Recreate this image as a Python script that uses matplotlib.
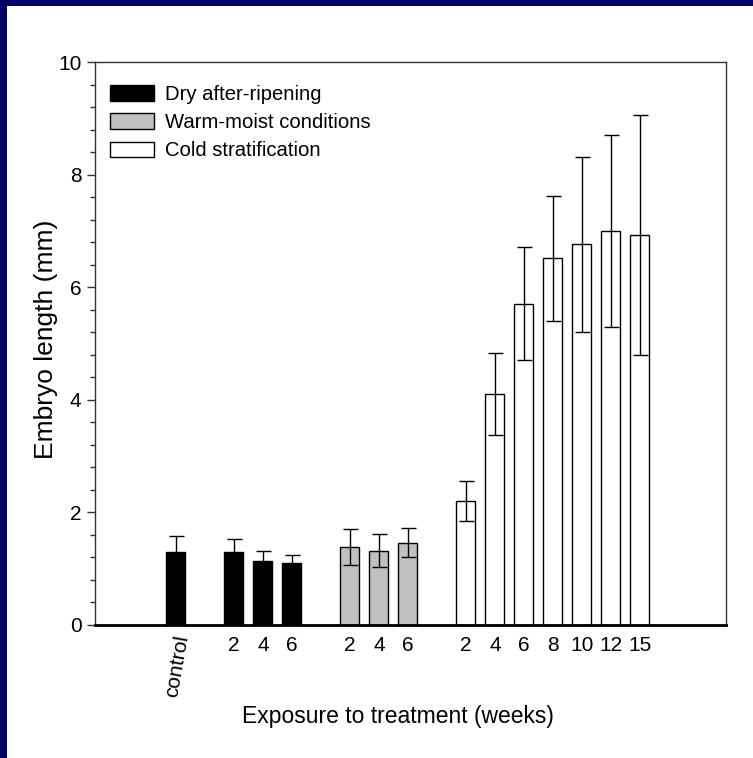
import matplotlib
matplotlib.use('Agg')
import matplotlib.pyplot as plt
from matplotlib.patches import Patch, Rectangle
from matplotlib.ticker import MultipleLocator

# Embryo length (mm) after each treatment, mean and error
control_mean = 1.30
control_err = 0.28

dry_weeks = ['2', '4', '6']
dry_mean = [1.30, 1.14, 1.11]
dry_err = [0.23, 0.17, 0.13]

warm_weeks = ['2', '4', '6']
warm_mean = [1.38, 1.32, 1.46]
warm_err = [0.32, 0.29, 0.26]

cold_weeks = ['2', '4', '6', '8', '10', '12', '15']
cold_mean = [2.20, 4.11, 5.71, 6.51, 6.76, 7.00, 6.92]
cold_err = [0.36, 0.73, 1.00, 1.11, 1.56, 1.70, 2.13]

plt.rcParams['font.family'] = ['Liberation Sans', 'DejaVu Sans']

fig = plt.figure(figsize=(7.53, 7.58), dpi=100)
ax = fig.add_axes([95 / 753, 133 / 758, 631 / 753, 563 / 758])

# navy frame on the top and left edges
fig.patches.append(Rectangle((0, 1 - 6 / 758), 1, 6 / 758, transform=fig.transFigure,
                             facecolor='#000066', edgecolor='none', zorder=0))
fig.patches.append(Rectangle((0, 0), 7 / 753, 1, transform=fig.transFigure,
                             facecolor='#000066', edgecolor='none', zorder=0))

# slot positions: one empty slot between the groups
x_control = [0]
x_dry = [2 + i for i in range(len(dry_mean))]
x_warm = [x_dry[-1] + 2 + i for i in range(len(warm_mean))]
x_cold = [x_warm[-1] + 2 + i for i in range(len(cold_mean))]

width = 0.65
groups = [
    (x_control, [control_mean], [control_err], 'black'),
    (x_dry, dry_mean, dry_err, 'black'),
    (x_warm, warm_mean, warm_err, '#c0c0c0'),
    (x_cold, cold_mean, cold_err, 'white'),
]
for xs, means, errs, color in groups:
    ax.bar(xs, means, width=width, color=color, edgecolor='black', linewidth=1.0, zorder=2)
    ax.errorbar(xs, means, yerr=errs, fmt='none', ecolor='black', elinewidth=1.0,
                capsize=5.4, capthick=1.0, zorder=3)

ax.set_xlim(-2.79, 18.97)
ax.set_ylim(0, 10)

# y axis ticks
ax.yaxis.set_major_locator(MultipleLocator(2))
ax.yaxis.set_minor_locator(MultipleLocator(0.4))
ax.tick_params(axis='y', which='major', length=5.8, width=1, labelsize=15, pad=4, color='#333333')
ax.tick_params(axis='y', which='minor', length=3.6, width=1, color='#333333')

# x tick labels under the bars (no tick marks)
ax.set_xticks(x_dry + x_warm + x_cold)
ax.set_xticklabels(dry_weeks + warm_weeks + cold_weeks)
ax.tick_params(axis='x', length=0, labelsize=15, pad=8)
ax.text(x_control[0] + 0.05, -0.16, 'control', rotation=80, ha='center', va='top',
        fontsize=15)

for side in ['left', 'top', 'right']:
    ax.spines[side].set_linewidth(1.0)
    ax.spines[side].set_color('#333333')
ax.spines['bottom'].set_linewidth(2.0)
ax.spines['bottom'].set_color('black')

ax.set_ylabel('Embryo length (mm)', fontsize=19, va='center')
ax.yaxis.set_label_coords(-0.078, 0.508)
ax.set_xlabel('Exposure to treatment (weeks)', fontsize=16.5, va='center')
ax.xaxis.set_label_coords(0.48, -0.163)

handles = [
    Patch(facecolor='black', edgecolor='black', linewidth=1.0),
    Patch(facecolor='#c0c0c0', edgecolor='black', linewidth=1.0),
    Patch(facecolor='white', edgecolor='black', linewidth=1.0),
]
labels = ['Dry after-ripening', 'Warm-moist conditions', 'Cold stratification']
ax.legend(handles, labels, loc='upper left', bbox_to_anchor=(15 / 631, 1 - 23 / 563),
          frameon=False, fontsize=14.6, handlelength=2.17, handleheight=0.79,
          handletextpad=0.55, labelspacing=0.45, borderpad=0, borderaxespad=0)

fig.savefig('out.png', dpi=100, facecolor='white')
